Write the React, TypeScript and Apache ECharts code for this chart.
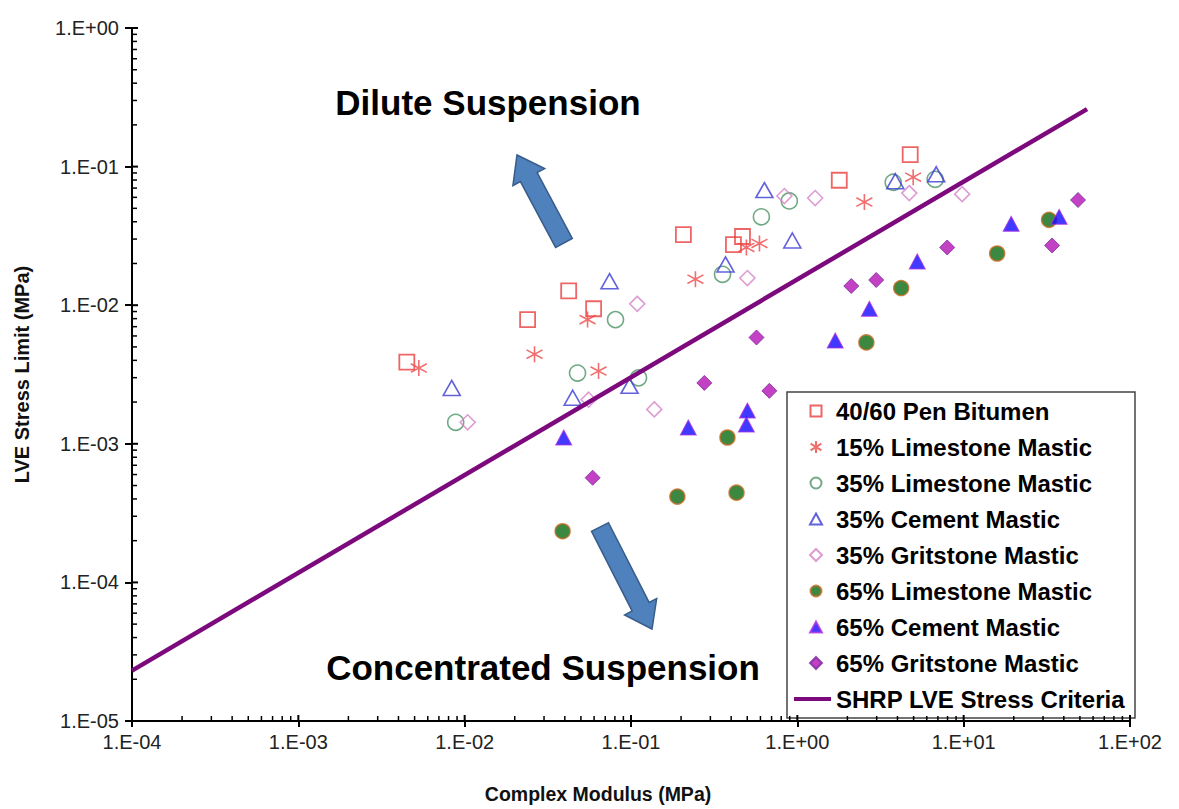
import React, { useEffect, useRef } from "react";
import * as echarts from "echarts";

// ---- Data (Complex Modulus MPa, LVE Stress Limit MPa) ----
const penX = [4.49e-3, 0.0239, 0.0422, 0.0596, 0.2065, 0.413, 0.468, 1.787, 4.77];
const penY = [3.88e-3, 7.87e-3, 0.01267, 9.43e-3, 0.0323, 0.0274, 0.0313, 0.0797, 0.122];

const lime15X = [5.3e-3, 0.0263, 0.0548, 0.0638, 0.244, 0.494, 0.592, 2.53, 4.97];
const lime15Y = [3.52e-3, 4.43e-3, 7.87e-3, 3.35e-3, 0.0154, 0.0261, 0.0279, 0.0555, 0.0838];

const lime35X = [8.83e-3, 0.0477, 0.0807, 0.111, 0.355, 0.608, 0.895, 3.77, 6.74];
const lime35Y = [1.43e-3, 3.24e-3, 7.87e-3, 2.99e-3, 0.0167, 0.0434, 0.0565, 0.0771, 0.081];

const cem35X = [8.36e-3, 0.0446, 0.0743, 0.098, 0.37, 0.634, 0.933, 3.88, 6.84];
const cem35Y = [2.53e-3, 2.15e-3, 0.0149, 2.62e-3, 0.0197, 0.0677, 0.0293, 0.0784, 0.088];

const grit35X = [0.01042, 0.0556, 0.109, 0.138, 0.501, 0.836, 1.28, 4.71, 9.79];
const grit35Y = [1.43e-3, 2.08e-3, 0.01023, 1.77e-3, 0.0157, 0.0613, 0.0593, 0.0644, 0.0633];

const lime65X = [0.0388, 0.19, 0.38, 0.431, 2.6, 4.21, 15.9, 32.6];
const lime65Y = [2.34e-4, 4.16e-4, 1.11e-3, 4.44e-4, 5.39e-3, 0.0133, 0.0236, 0.0413];

const cem65X = [0.0394, 0.221, 0.494, 0.501, 1.69, 2.71, 5.26, 19.3, 37.5];
const cem65Y = [1.11e-3, 1.31e-3, 1.38e-3, 1.74e-3, 5.57e-3, 9.42e-3, 0.0207, 0.0387, 0.0434];

const grit65X = [0.0588, 0.276, 0.568, 0.679, 2.11, 2.98, 7.96, 34.0, 48.7];
const grit65Y = [5.69e-4, 2.75e-3, 5.85e-3, 2.41e-3, 0.01375, 0.0152, 0.0261, 0.027, 0.0574];

const shrpX = [1e-4, 55.2];
const shrpY = [2.31e-5, 0.26];

const seriesNames = [
  "40/60 Pen Bitumen",
  "15% Limestone Mastic",
  "35% Limestone Mastic",
  "35% Cement Mastic",
  "35% Gritstone Mastic",
  "65% Limestone Mastic",
  "65% Cement Mastic",
  "65% Gritstone Mastic",
  "SHRP LVE Stress Criteria",
];

const xMin = 1e-4;
const xMax = 100;
const yMin = 1e-5;
const yMax = 1;
const xDecades = [-4, 2];
const yDecades = [-5, 0];

const zip = (xs: number[], ys: number[]) => xs.map((x, i) => [x, ys[i]]);

const fmtExp = (v: number) => {
  const e = Math.round(Math.log10(v));
  return "1.E" + (e < 0 ? "-" : "+") + String(Math.abs(e)).padStart(2, "0");
};

// tick values (k * 10^e), flagged as major when k === 1
const logTicks = (lo: number, hi: number) => {
  const out: { v: number; major: boolean }[] = [];
  for (let e = lo; e < hi; e++) {
    for (let k = 1; k <= 9; k++) out.push({ v: k * Math.pow(10, e), major: k === 1 });
  }
  out.push({ v: Math.pow(10, hi), major: true });
  return out;
};

const FONT = "'Liberation Sans', Arial, sans-serif";
const ASTERISK = "path://M5,0L5,10M0.6,2.3L9.4,7.7M0.6,7.7L9.4,2.3";

// Legend icons drawn inside a 37 x 13 box (the M0,0 M37,13 moves fix the box)
const BOX = "path://M0,0M37,13";
const LEG_ICONS = [
  BOX + "M16.5,1H27.5V12H16.5Z",
  BOX + "M22,0.5V12.5M16.6,3.2L27.4,9.8M16.6,9.8L27.4,3.2",
  BOX + "M27.5,6.5A5.5,5.5,0,1,1,16.5,6.5A5.5,5.5,0,1,1,27.5,6.5Z",
  BOX + "M22,1L28,12H16Z",
  BOX + "M22,0.5L28,6.5L22,12.5L16,6.5Z",
  BOX + "M27.5,6.5A5.5,5.5,0,1,1,16.5,6.5A5.5,5.5,0,1,1,27.5,6.5Z",
  BOX + "M22,1L28,12H16Z",
  BOX + "M22,0.5L28,6.5L22,12.5L16,6.5Z",
  "path://M0,0M37,13M0,4.5H37V8.5H0Z",
];

export default function App() {
  const ref = useRef<HTMLDivElement>(null);
  useEffect(() => {
    if (!ref.current) return;
    const chart = echarts.init(ref.current, undefined, { renderer: "svg" });

    const arrow = (tip: number[], tail: number[], headLen: number, headHalf: number, shaftHalf: number) => {
      const dx = tip[0] - tail[0];
      const dy = tip[1] - tail[1];
      const L = Math.hypot(dx, dy);
      const ux = dx / L, uy = dy / L;
      const px = -uy, py = ux;
      const bx = tip[0] - headLen * ux, by = tip[1] - headLen * uy;
      return [
        [tail[0] + shaftHalf * px, tail[1] + shaftHalf * py],
        [bx + shaftHalf * px, by + shaftHalf * py],
        [bx + headHalf * px, by + headHalf * py],
        tip,
        [bx - headHalf * px, by - headHalf * py],
        [bx - shaftHalf * px, by - shaftHalf * py],
        [tail[0] - shaftHalf * px, tail[1] - shaftHalf * py],
      ];
    };

    const baseGraphic: any[] = [
      {
        type: "text",
        style: { text: "Dilute Suspension", x: 488, y: 102, align: "center", verticalAlign: "middle", fontSize: 35, fontWeight: "bold", fill: "#000", fontFamily: FONT },
      },
      {
        type: "text",
        style: { text: "Concentrated Suspension", x: 543, y: 667, align: "center", verticalAlign: "middle", fontSize: 35, fontWeight: "bold", fill: "#000", fontFamily: FONT },
      },
      {
        type: "polygon",
        shape: { points: arrow([517, 155], [564, 243], 25, 18, 9.5) },
        style: { fill: "#4f81bd", stroke: "#385d8a", lineWidth: 1.5 },
      },
      {
        type: "polygon",
        shape: { points: arrow([652, 629], [600, 527], 25, 18, 9.5) },
        style: { fill: "#4f81bd", stroke: "#385d8a", lineWidth: 1.5 },
      },
    ];

    const option: any = {
      animation: false,
      backgroundColor: "#ffffff",
      grid: { left: 132, right: 49, top: 28, bottom: 80, containLabel: false },
      xAxis: {
        type: "log",
        logBase: 10,
        min: xMin,
        max: xMax,
        position: "bottom",
        axisLine: { onZero: false, lineStyle: { color: "#000", width: 2 } },
        axisTick: { show: true, inside: false, length: 6, lineStyle: { color: "#000", width: 2 } },
        axisLabel: { formatter: fmtExp, fontSize: 20, color: "#222", margin: 11, fontFamily: FONT },
        splitLine: { show: false },
        name: "Complex Modulus (MPa)",
        nameLocation: "middle",
        nameGap: 63,
        nameTextStyle: { fontSize: 19.5, fontWeight: "bold", color: "#111", fontFamily: FONT, padding: [0, 66, 0, 0] },
      },
      yAxis: {
        type: "log",
        logBase: 10,
        min: yMin,
        max: yMax,
        position: "left",
        axisLine: { onZero: false, lineStyle: { color: "#000", width: 2 } },
        axisTick: { show: true, inside: false, length: 7, lineStyle: { color: "#000", width: 2 } },
        axisLabel: { formatter: fmtExp, fontSize: 20, color: "#222", margin: 13, fontFamily: FONT },
        splitLine: { show: false },
        name: "LVE Stress Limit (MPa)",
        nameLocation: "middle",
        nameGap: 100,
        nameTextStyle: { fontSize: 20, fontWeight: "bold", color: "#111", fontFamily: FONT },
      },
      legend: {
        orient: "vertical",
        left: 787,
        top: 392,
        padding: [7, 10, 7, 6],
        itemWidth: 37,
        itemHeight: 13,
        itemGap: 12,
        borderColor: "#444",
        borderWidth: 1.5,
        backgroundColor: "#fff",
        textStyle: { fontSize: 24, fontWeight: "bold", color: "#000", fontFamily: FONT },
        data: seriesNames.map((n, i) =>
          i === seriesNames.length - 1
            ? { name: n, icon: LEG_ICONS[i], itemStyle: { color: "#7d0a7d", borderWidth: 0 } }
            : { name: n, icon: LEG_ICONS[i] }
        ),
      },
      series: [
        {
          name: seriesNames[0], type: "scatter", symbol: "rect", symbolSize: 15,
          itemStyle: { color: "rgba(255,255,255,0)", borderColor: "#e8403f", borderWidth: 1.8 },
          data: zip(penX, penY),
        },
        {
          name: seriesNames[1], type: "scatter", symbol: ASTERISK, symbolSize: 16,
          itemStyle: { color: "rgba(255,255,255,0)", borderColor: "#ee4a4a", borderWidth: 1.6 },
          data: zip(lime15X, lime15Y),
        },
        {
          name: seriesNames[2], type: "scatter", symbol: "circle", symbolSize: 16,
          itemStyle: { color: "rgba(255,255,255,0)", borderColor: "#4d9366", borderWidth: 1.6 },
          data: zip(lime35X, lime35Y),
        },
        {
          name: seriesNames[3], type: "scatter", symbol: "triangle", symbolSize: [17, 15],
          itemStyle: { color: "rgba(255,255,255,0)", borderColor: "#3b3bd4", borderWidth: 1.6 },
          data: zip(cem35X, cem35Y),
        },
        {
          name: seriesNames[4], type: "scatter", symbol: "diamond", symbolSize: 15,
          itemStyle: { color: "rgba(255,255,255,0)", borderColor: "#d683c8", borderWidth: 1.6 },
          data: zip(grit35X, grit35Y),
        },
        {
          name: seriesNames[5], type: "scatter", symbol: "circle", symbolSize: 15,
          itemStyle: { color: "#0d6a10", borderColor: "#c46a22", borderWidth: 1.5 },
          data: zip(lime65X, lime65Y),
        },
        {
          name: seriesNames[6], type: "scatter", symbol: "triangle", symbolSize: [16, 15],
          itemStyle: { color: "#1208ff", borderColor: "#b030e0", borderWidth: 1 },
          data: zip(cem65X, cem65Y),
        },
        {
          name: seriesNames[7], type: "scatter", symbol: "diamond", symbolSize: 15,
          itemStyle: { color: "#b411b4", borderColor: "#7a2aa0", borderWidth: 1 },
          data: zip(grit65X, grit65Y),
        },
        {
          name: seriesNames[8], type: "line", symbol: "none", showSymbol: false,
          lineStyle: { color: "#7d0a7d", width: 4.5 },
          itemStyle: { color: "#7d0a7d" },
          data: zip(shrpX, shrpY),
          z: 3,
        },
      ],
      graphic: baseGraphic,
    };

    chart.setOption(option);

    // inside (minor + major) ticks, positioned through the axes' own scales
    const tickEls: any[] = [];
    const yBase = chart.convertToPixel({ yAxisIndex: 0 }, yMin) as number;
    const xBase = chart.convertToPixel({ xAxisIndex: 0 }, xMin) as number;
    for (const t of logTicks(xDecades[0], xDecades[1])) {
      const px = chart.convertToPixel({ xAxisIndex: 0 }, t.v) as number;
      tickEls.push({
        type: "line", silent: true, z: 10,
        shape: { x1: px, y1: yBase, x2: px, y2: yBase - (t.major ? 6 : 5) },
        style: { stroke: "#000", lineWidth: t.major ? 2 : 1.5 },
      });
    }
    for (const t of logTicks(yDecades[0], yDecades[1])) {
      const py = chart.convertToPixel({ yAxisIndex: 0 }, t.v) as number;
      tickEls.push({
        type: "line", silent: true, z: 10,
        shape: { x1: xBase, y1: py, x2: xBase + (t.major ? 6 : 5), y2: py },
        style: { stroke: "#000", lineWidth: t.major ? 2 : 1.5 },
      });
    }
    chart.setOption({ graphic: [...baseGraphic, ...tickEls] });

    return () => chart.dispose();
  }, []);

  return (
    <div
      ref={ref}
      style={{ position: "absolute", left: 0, top: 0, width: 1179, height: 809, background: "#fff" }}
    />
  );
}
